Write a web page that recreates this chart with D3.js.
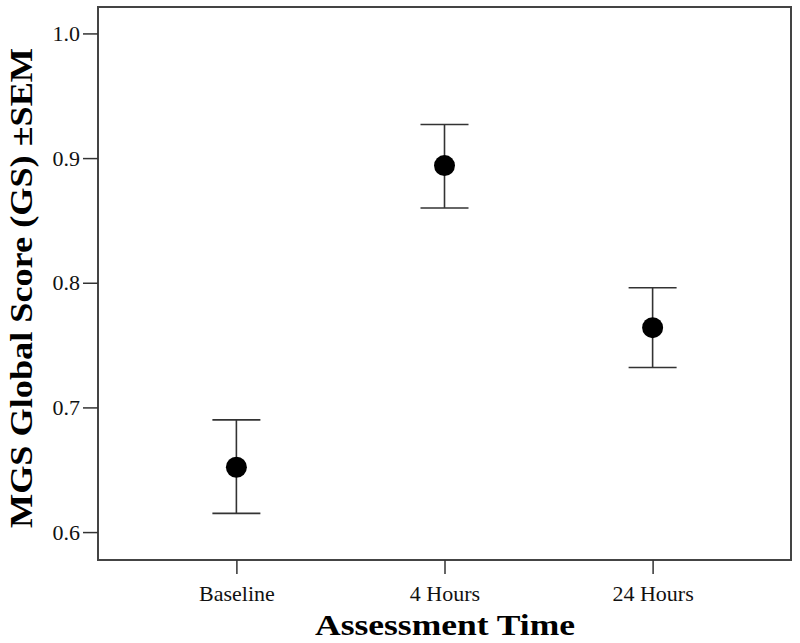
<!DOCTYPE html>
<html lang="en">
<head>
<meta charset="utf-8">
<title>MGS Global Score</title>
<script src="https://cdn.jsdelivr.net/npm/d3@7"></script>
<style>
  body { margin: 0; background: #fff; }
  .tick text { font: 22px "Liberation Serif", "Times New Roman", serif; fill: #111; }
  .axis-title { font-family: "Liberation Serif", "Times New Roman", serif; font-weight: bold; fill: #000; }
</style>
</head>
<body>
<svg id="chart" width="800" height="643"></svg>
<script>
// data
var categories = ["Baseline", "4 Hours", "24 Hours"];
var means = [0.652, 0.894, 0.764];
var upper = [0.690, 0.927, 0.796];
var lower = [0.615, 0.860, 0.732];
var yTicks = [0.6, 0.7, 0.8, 0.9, 1.0];

var svg = d3.select("#chart");
var margin = {top: 7, right: 9, bottom: 83, left: 98};
var width = 800 - margin.left - margin.right;
var height = 643 - margin.top - margin.bottom;

var g = svg.append("g")
  .attr("transform", "translate(" + margin.left + "," + margin.top + ")");

var x = d3.scalePoint()
  .domain(categories)
  .range([0, width])
  .padding(0.665);

var y = d3.scaleLinear()
  .domain([0.5776, 1.0212])
  .range([height, 0]);

// frame
g.append("rect")
  .attr("width", width)
  .attr("height", height)
  .attr("fill", "none")
  .attr("stroke", "#444")
  .attr("stroke-width", 2);

// axes
var yAxis = g.append("g")
  .call(d3.axisLeft(y).tickValues(yTicks).tickFormat(d3.format(".1f")).tickSize(15).tickPadding(3));
var xAxis = g.append("g")
  .attr("transform", "translate(0," + height + ")")
  .call(d3.axisBottom(x).tickSize(14).tickPadding(8));

[yAxis, xAxis].forEach(function(a){
  a.select(".domain").remove();
  a.selectAll(".tick line").attr("stroke", "#333").attr("stroke-width", 1.5);
});
xAxis.selectAll(".tick text").attr("dy", "0.85em");

// error bars
var pts = categories.map(function(c, i){
  return {cat: c, mean: means[i], hi: upper[i], lo: lower[i]};
});
var capW = 24;

var bars = g.selectAll(".err")
  .data(pts)
  .enter()
  .append("g")
  .attr("class", "err")
  .attr("stroke", "#333")
  .attr("stroke-width", 1.6);

bars.append("line")
  .attr("x1", function(d){ return x(d.cat); })
  .attr("x2", function(d){ return x(d.cat); })
  .attr("y1", function(d){ return y(d.hi); })
  .attr("y2", function(d){ return y(d.lo); });
bars.append("line")
  .attr("x1", function(d){ return x(d.cat) - capW; })
  .attr("x2", function(d){ return x(d.cat) + capW; })
  .attr("y1", function(d){ return y(d.hi); })
  .attr("y2", function(d){ return y(d.hi); });
bars.append("line")
  .attr("x1", function(d){ return x(d.cat) - capW; })
  .attr("x2", function(d){ return x(d.cat) + capW; })
  .attr("y1", function(d){ return y(d.lo); })
  .attr("y2", function(d){ return y(d.lo); });

g.selectAll(".dot")
  .data(pts)
  .enter()
  .append("circle")
  .attr("class", "dot")
  .attr("cx", function(d){ return x(d.cat); })
  .attr("cy", function(d){ return y(d.mean); })
  .attr("r", 10.5)
  .attr("fill", "#000");

// titles
svg.append("text")
  .attr("class", "axis-title")
  .attr("x", 445)
  .attr("y", 635)
  .attr("text-anchor", "middle")
  .attr("textLength", 260)
  .attr("lengthAdjust", "spacingAndGlyphs")
  .style("font-size", "30px")
  .text("Assessment Time");

svg.append("text")
  .attr("class", "axis-title")
  .attr("transform", "translate(32,288) rotate(-90)")
  .attr("text-anchor", "middle")
  .attr("textLength", 480)
  .attr("lengthAdjust", "spacingAndGlyphs")
  .style("font-size", "32px")
  .text("MGS Global Score (GS) \u00B1SEM");
</script>
</body>
</html>
